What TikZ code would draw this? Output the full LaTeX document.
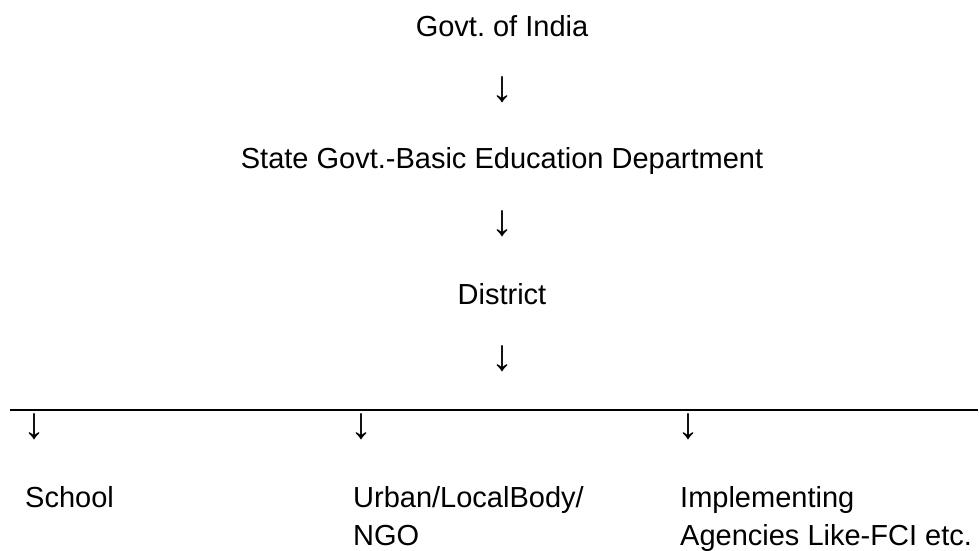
\documentclass[tikz,border=0pt]{standalone}
\usepackage{fontspec}
\setmainfont{Liberation Sans}
\frenchspacing
\begin{document}
\begin{tikzpicture}[x=1pt,y=-1pt,
  lbl/.style={inner sep=0pt, font=\fontsize{29}{38}\selectfont},
  arr/.style={inner sep=0pt, font=\fontsize{44}{44}\selectfont},
  rule/.style={line width=2pt}]
\useasboundingbox (0,0) rectangle (979,551);
\node[lbl, anchor=base] (goi) at (502,37) {Govt. of India};
\node[arr] (a1) at (502,89.5) {↓};
\node[lbl, anchor=base] (state) at (502,168) {State Govt.-Basic Education Department};
\node[arr] (a2) at (502,223.5) {↓};
\node[lbl, anchor=base] (dist) at (502,304) {District};
\node[arr] (a3) at (502,358.5) {↓};
\coordinate (l0) at (10,410);
\coordinate (l1) at (978,410);
\draw[rule] (l0) -- (l1);
\node[arr] (b1) at (34.5,426.5) {↓};
\node[arr] (b2) at (361,426.5) {↓};
\node[arr] (b3) at (688.5,426.5) {↓};
\node[lbl, anchor=base west] (school) at (25,507) {School};
\node[lbl, anchor=base west, align=left] (urban) at (353,545) {Urban/LocalBody/\\NGO};
\node[lbl, anchor=base west, align=left] (impl) at (680,545) {Implementing\\Agencies Like-FCI etc.};
\end{tikzpicture}
\end{document}
